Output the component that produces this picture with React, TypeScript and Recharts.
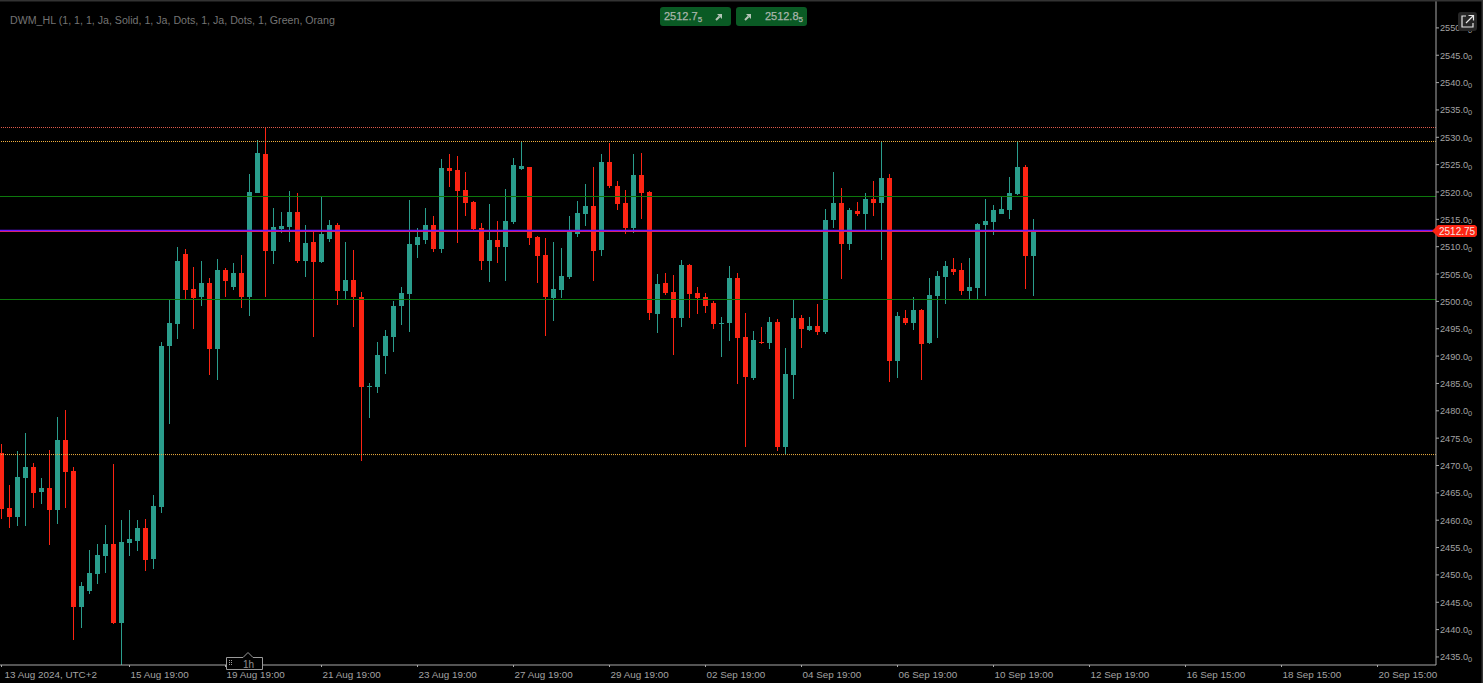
import { ComposedChart, Bar, XAxis, YAxis, ReferenceLine } from "recharts";

const opens = [
  2472.29, 2462.23, 2460.58, 2467.71, 2469.73, 2465.16, 2465.89, 2461.86, 2474.66, 2468.99,
  2444.13, 2447.06, 2450.17, 2453.46, 2455.65, 2441.21, 2455.83, 2456.2, 2458.57, 2452.91,
  2462.41, 2491.85, 2495.87, 2508.66, 2502.27, 2500.8, 2503.36, 2491.3, 2505.74, 2502.63,
  2505.19, 2500.8, 2519.82, 2526.95, 2509.21, 2513.24, 2513.6, 2516.34, 2507.39, 2510.86,
  2507.2, 2511.41, 2513.97, 2501.9, 2503.91, 2500.8, 2484.35, 2484.35, 2490.02, 2493.49,
  2499.16, 2501.35, 2510.31, 2511.22, 2513.97, 2509.58, 2524.38, 2524.02, 2520.36, 2518.17,
  2513.42, 2507.39, 2511.22, 2509.95, 2514.52, 2524.2, 2524.57, 2511.77, 2508.48, 2500.62,
  2502.08, 2504.46, 2512.32, 2515.98, 2517.44, 2509.4, 2525.49, 2521.1, 2517.99, 2513.42,
  2523.11, 2520.0, 2497.7, 2503.36, 2501.72, 2496.97, 2506.65, 2501.54, 2500.8, 2499.71,
  2495.87, 2496.05, 2504.28, 2493.49, 2485.99, 2492.58, 2492.4, 2496.23, 2473.38, 2486.54,
  2496.97, 2494.77, 2495.5, 2494.4, 2514.88, 2517.99, 2510.49, 2516.53, 2515.98, 2518.72,
  2517.99, 2522.56, 2489.11, 2496.97, 2496.05, 2498.43, 2492.4, 2500.99, 2504.46, 2505.93,
  2505.74, 2501.9, 2502.45, 2513.97, 2514.52, 2515.98, 2516.71, 2519.64, 2524.57, 2508.3,
];
const closes = [
  2462.05, 2460.58, 2467.9, 2469.73, 2464.97, 2465.89, 2461.86, 2474.66, 2468.81, 2444.13,
  2447.97, 2450.35, 2453.64, 2455.65, 2441.21, 2456.02, 2456.57, 2458.57, 2452.73, 2462.6,
  2491.85, 2496.05, 2507.39, 2502.08, 2500.62, 2503.36, 2491.3, 2505.74, 2503.73, 2505.19,
  2500.8, 2520.0, 2527.13, 2509.21, 2513.6, 2513.78, 2516.34, 2507.39, 2510.68, 2507.2,
  2512.32, 2513.97, 2501.9, 2503.91, 2500.8, 2484.35, 2484.53, 2490.2, 2493.67, 2499.16,
  2501.53, 2510.49, 2511.77, 2513.97, 2509.58, 2524.38, 2523.84, 2520.18, 2517.99, 2513.24,
  2507.39, 2511.22, 2509.94, 2514.7, 2524.94, 2524.75, 2511.59, 2508.3, 2500.8, 2502.27,
  2504.64, 2512.87, 2516.16, 2517.44, 2509.21, 2525.49, 2521.1, 2517.81, 2513.42, 2523.11,
  2519.82, 2497.88, 2503.18, 2501.54, 2496.97, 2506.65, 2501.35, 2500.62, 2499.16, 2495.87,
  2496.05, 2504.28, 2493.31, 2486.18, 2492.95, 2492.4, 2496.23, 2473.38, 2486.73, 2496.97,
  2494.96, 2495.5, 2494.4, 2514.88, 2517.99, 2510.49, 2516.71, 2515.98, 2518.72, 2517.99,
  2522.56, 2489.11, 2497.33, 2496.05, 2498.43, 2492.21, 2501.17, 2504.64, 2506.47, 2505.38,
  2501.9, 2502.63, 2514.15, 2514.7, 2516.71, 2516.89, 2519.82, 2524.57, 2508.3, 2512.69,
];
const highs = [
  2473.93, 2466.44, 2472.65, 2475.94, 2470.46, 2467.71, 2472.83, 2478.87, 2480.15, 2469.73,
  2448.7, 2454.55, 2455.65, 2459.12, 2470.28, 2460.04, 2461.86, 2460.04, 2460.22, 2464.61,
  2492.58, 2500.26, 2509.95, 2509.58, 2506.29, 2507.39, 2504.28, 2507.75, 2506.11, 2507.02,
  2508.48, 2523.29, 2529.5, 2531.82, 2517.07, 2516.34, 2520.18, 2519.82, 2513.97, 2512.69,
  2519.09, 2514.88, 2514.33, 2510.86, 2509.4, 2501.72, 2485.08, 2492.58, 2494.77, 2500.07,
  2502.63, 2518.53, 2513.42, 2517.07, 2515.61, 2526.03, 2526.95, 2526.58, 2523.65, 2518.35,
  2514.33, 2517.8, 2514.7, 2520.55, 2526.22, 2529.2, 2524.57, 2511.96, 2511.59, 2510.86,
  2509.76, 2515.61, 2518.35, 2521.46, 2524.57, 2526.95, 2528.96, 2522.01, 2520.37, 2526.95,
  2527.13, 2520.18, 2505.01, 2505.19, 2504.83, 2507.57, 2506.84, 2502.63, 2501.54, 2500.07,
  2497.15, 2506.47, 2505.19, 2497.88, 2494.59, 2495.32, 2497.15, 2496.78, 2491.48, 2500.25,
  2497.51, 2497.15, 2499.52, 2516.89, 2523.66, 2520.73, 2517.07, 2518.17, 2519.82, 2522.01,
  2529.2, 2523.29, 2498.06, 2498.43, 2500.8, 2498.61, 2504.28, 2505.56, 2507.39, 2507.94,
  2507.02, 2507.94, 2514.33, 2518.72, 2517.62, 2519.09, 2522.74, 2529.2, 2524.94, 2515.07,
];
const lows = [
  2460.22, 2458.57, 2458.94, 2458.94, 2462.23, 2462.96, 2455.46, 2459.31, 2462.23, 2438.1,
  2440.29, 2446.51, 2448.34, 2450.35, 2441.03, 2433.6, 2453.46, 2454.37, 2450.71, 2451.08,
  2461.32, 2477.59, 2493.13, 2500.38, 2494.95, 2499.16, 2486.54, 2485.63, 2500.8, 2502.08,
  2498.79, 2497.33, 2519.82, 2500.8, 2506.84, 2512.51, 2510.86, 2507.02, 2504.46, 2493.49,
  2507.02, 2510.86, 2499.34, 2500.44, 2495.32, 2470.82, 2478.68, 2483.25, 2486.72, 2490.75,
  2495.68, 2494.4, 2507.93, 2510.49, 2509.03, 2508.85, 2520.91, 2510.68, 2515.61, 2513.05,
  2505.74, 2503.54, 2507.02, 2503.73, 2514.15, 2524.02, 2510.31, 2503.36, 2493.67, 2496.42,
  2500.62, 2504.1, 2511.77, 2513.78, 2503.73, 2508.3, 2520.73, 2516.71, 2512.32, 2512.51,
  2515.07, 2496.6, 2494.22, 2501.17, 2490.2, 2495.32, 2496.97, 2497.7, 2497.88, 2494.96,
  2489.84, 2492.76, 2484.9, 2473.38, 2485.63, 2492.21, 2491.3, 2472.65, 2472.1, 2482.16,
  2491.48, 2494.59, 2493.86, 2494.04, 2513.42, 2504.1, 2509.4, 2515.61, 2513.05, 2515.61,
  2507.57, 2485.27, 2485.99, 2495.69, 2494.77, 2485.63, 2492.21, 2493.31, 2499.52, 2504.83,
  2501.17, 2500.44, 2500.44, 2500.99, 2512.14, 2515.98, 2515.07, 2519.45, 2502.27, 2500.99,
];

const xTicks = [0, 16, 28, 40, 52, 64, 76, 88, 100, 112, 124, 136, 148, 160, 172];
const xLabels = [
  "13 Aug 2024, UTC+2", "15 Aug 19:00", "19 Aug 19:00", "21 Aug 19:00", "23 Aug 19:00",
  "27 Aug 19:00", "29 Aug 19:00", "02 Sep 19:00", "04 Sep 19:00", "06 Sep 19:00",
  "10 Sep 19:00", "12 Sep 19:00", "16 Sep 15:00", "18 Sep 15:00", "20 Sep 15:00",
];
const yTicks = [
  2435, 2440, 2445, 2450, 2455, 2460, 2465, 2470, 2475, 2480, 2485, 2490,
  2495, 2500, 2505, 2510, 2515, 2520, 2525, 2530, 2535, 2540, 2545, 2550,
];

const UP = "#2a9d8c";
const DOWN = "#fc2413";
const AXIS_TEXT = "#a3a3a3";
const FONT = "'Liberation Sans', Arial, sans-serif";

const candles = opens.map((open, i) => ({
  i,
  open,
  close: closes[i],
  high: highs[i],
  low: lows[i],
  range: [lows[i], highs[i]],
}));

// range bar gives the wick, the body is worked out from the same px/price ratio
function Candle(props: any) {
  const { x, y, width, height, payload } = props;
  const ratio = height / (payload.high - payload.low);
  const top = y + (payload.high - Math.max(payload.open, payload.close)) * ratio;
  const bodyH = Math.abs(payload.open - payload.close) * ratio;
  const color = payload.close >= payload.open ? UP : DOWN;
  // recharts truncates the bar offset, so x lands on a half pixel
  const left = Math.ceil(x);
  return (
    <g>
      <rect x={left + 2} y={Math.round(y)} width={1} height={Math.max(1, Math.round(height))} fill={color} />
      <rect x={left} y={Math.round(top)} width={width} height={Math.max(1, Math.round(bodyH))} fill={color} />
    </g>
  );
}

function TimeTick({ x, payload }: any) {
  return (
    <text x={Math.max(x + 1, 4.5)} y={677.5} fill={AXIS_TEXT} fontSize={9.9} fontFamily={FONT}>
      {xLabels[xTicks.indexOf(payload.value)]}
    </text>
  );
}

function PriceTick({ y, payload }: any) {
  return (
    <text x={1440} y={y + 3.5} fill={AXIS_TEXT} fontSize={9.2} fontFamily={FONT}>
      {payload.value.toFixed(1)}
      <tspan fontSize={7.5} dy={1.5}>0</tspan>
    </text>
  );
}

function Pill({ left, value, sub, arrowFirst }: any) {
  const arrow = (
    <svg width="8" height="8" viewBox="0 0 8 8" style={{ position: "absolute", top: 6, [arrowFirst ? "left" : "right"]: 8 }}>
      <path d="M1 7 L4.5 3.5" stroke="#b5c4b8" strokeWidth="2" fill="none" />
      <path d="M2 1 H7 V6 Z" fill="#b5c4b8" />
    </svg>
  );
  return (
    <div
      style={{
        position: "absolute", left, top: 7, width: 71, height: 19, borderRadius: 3,
        background: "#0a5a24", color: "#a9b5ab", fontFamily: FONT, fontSize: 11, lineHeight: "19px",
        WebkitTextStroke: "0.25px #a9b5ab",
      }}
    >
      {arrow}
      <span style={{ position: "absolute", [arrowFirst ? "right" : "left"]: arrowFirst ? 4 : 4, whiteSpace: "nowrap" }}>
        {value}
        <span style={{ fontSize: 8, position: "relative", top: 1.5 }}>{sub}</span>
      </span>
    </div>
  );
}

export default function App() {
  return (
    <div style={{ position: "absolute", left: 0, top: 0, width: 1483, height: 683, background: "#000", overflow: "hidden" }}>
      <ComposedChart
        width={1483}
        height={683}
        data={candles}
        margin={{ top: 0, right: 0, bottom: 0, left: 0 }}
        barCategoryGap={0}
      >
        <XAxis
          dataKey="i"
          type="number"
          domain={[-0.1875, 179.3125]}
          allowDataOverflow
          ticks={xTicks}
          interval={0}
          height={18}
          tick={<TimeTick />}
          tickSize={2}
          axisLine={{ stroke: "#a8a8a8" }}
          tickLine={{ stroke: "#a8a8a8" }}
        />
        <YAxis
          orientation="right"
          type="number"
          domain={[2433.53, 2555.1]}
          allowDataOverflow
          ticks={yTicks}
          interval={0}
          width={47}
          tick={<PriceTick />}
          tickSize={3}
          axisLine={{ stroke: "#a8a8a8" }}
          tickLine={{ stroke: "#a8a8a8" }}
        />
        <ReferenceLine y={2531.79} stroke="#e05a4a" strokeDasharray="1 1" />
        <ReferenceLine y={2529.23} stroke="#f0b040" strokeDasharray="1 1" />
        <ReferenceLine y={2519.18} stroke="#0e7a0e" />
        <ReferenceLine y={2500.35} stroke="#0e7a0e" />
        <ReferenceLine y={2472.0} stroke="#f0b040" strokeDasharray="1 1" />
        <Bar dataKey="range" barSize={5} shape={<Candle />} isAnimationActive={false} />
        <ReferenceLine y={2512.78} stroke="#ff2a3a" />
        <ReferenceLine y={2512.96} stroke="#6a14ff" strokeWidth={1.5} />
      </ComposedChart>

      <div style={{ position: "absolute", left: 10, top: 14, color: "#747474", fontFamily: FONT, fontSize: 10.65, whiteSpace: "nowrap" }}>
        DWM_HL (1, 1, 1, Ja, Solid, 1, Ja, Dots, 1, Ja, Dots, 1, Green, Orang
      </div>

      <Pill left={660} value="2512.7" sub="5" />
      <Pill left={736} value="2512.8" sub="5" arrowFirst />

      {/* current price flag, expand button, timeframe tab, frame */}
      <svg width={1483} height={683} style={{ position: "absolute", left: 0, top: 0, pointerEvents: "none" }}>
        <path d="M1432 231 L1438 225 H1475 L1477 227 V235 L1475 237 H1438 Z" fill="#fc2413" />
        <text x={1439} y={235} fill="#f5e6e0" fontSize={10} fontFamily={FONT}>2512.75</text>

        <rect x={1458} y={12} width={19} height={19} rx={3} fill="#262626" />
        <path d="M1466 16 H1462 V27 H1473 V23" stroke="#e6e6e6" fill="none" strokeWidth={1.2} />
        <path d="M1466 23 L1473 16 M1468.5 15.5 H1473.5 V20.5" stroke="#e6e6e6" fill="none" strokeWidth={1.2} />

        <path d="M226.5 657.5 H243 L248 652.5 L253 657.5 H262.5 V669.5 H226.5 Z" fill="#000" stroke="#9a9a9a" />
        <text x={243} y={668} fill="#8f8f8f" fontSize={10} fontFamily={FONT}>1h</text>
        <g fill="#9a9a9a">
          <rect x={229} y={660} width={1} height={1} /><rect x={231} y={660} width={1} height={1} />
          <rect x={229} y={662} width={1} height={1} /><rect x={231} y={662} width={1} height={1} />
          <rect x={229} y={664} width={1} height={1} /><rect x={231} y={664} width={1} height={1} />
        </g>

        <rect x={0} y={0} width={1483} height={1.5} fill="#333" />
        <rect x={1481.5} y={0} width={1.5} height={683} fill="#333" />
      </svg>
    </div>
  );
}
